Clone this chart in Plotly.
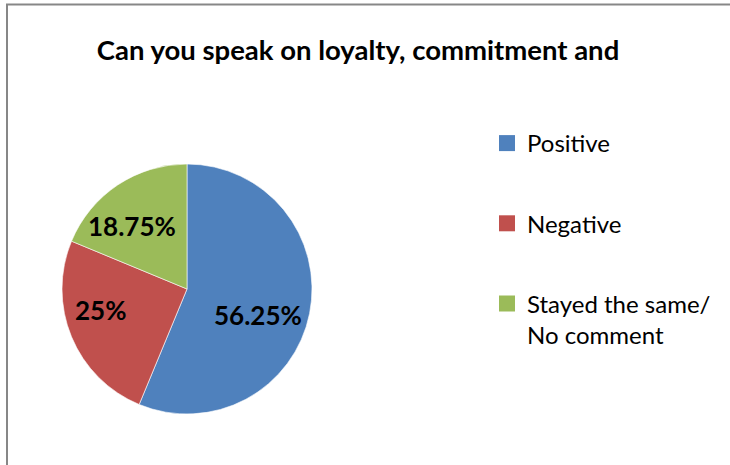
import plotly.graph_objects as go

# Survey responses (share of respondents, %)
categories = ["Positive", "Negative", "Stayed the same/<br>No comment"]
shares = [56.25, 25, 18.75]
colors = ["#4F81BD", "#C0504D", "#9BBB59"]

title_text = "Can you speak on loyalty, commitment and"

W, H = 730, 465
FONT = "Lato"


def px(x, y):
    """Pixel position (from top-left) -> paper coordinates."""
    return x / W, 1 - y / H


fig = go.Figure()

# Pie: first slice starts at 12 o'clock and runs clockwise
fig.add_trace(go.Pie(
    labels=categories,
    values=shares,
    sort=False,
    direction="clockwise",
    rotation=0,
    marker=dict(colors=colors, line=dict(color="white", width=0.6)),
    textinfo="none",
    showlegend=False,
    hoverinfo="label+value",
    domain=dict(x=[62 / W, 312 / W], y=[(H - 414) / H, (H - 164) / H]),
))

# Data labels inside the slices (best-fit placement)
label_xy = [(258, 315), (101, 310), (132, 226)]
annotations = []
for val, (lx, ly) in zip(shares, label_xy):
    ax_, ay_ = px(lx, ly)
    annotations.append(dict(
        x=ax_, y=ay_, xref="paper", yref="paper",
        xanchor="center", yanchor="middle", showarrow=False,
        text=f"{val:g}%",
        font=dict(family=FONT, size=26, color="black", weight="bold"),
    ))

# Legend entries (square swatches, one group each so they can be spaced apart)
for name, col in zip(categories, colors):
    fig.add_trace(go.Scatter(
        x=[None], y=[None], mode="markers", name=name,
        legendgroup=name,
        marker=dict(symbol="square", size=16, color=col),
    ))

fig.update_layout(
    width=W, height=H,
    margin=dict(l=0, r=0, t=0, b=0),
    paper_bgcolor="white",
    plot_bgcolor="white",
    xaxis=dict(visible=False),
    yaxis=dict(visible=False),
    title=dict(
        text=title_text,
        x=358 / W, xanchor="center",
        y=1 - 50 / H, yanchor="middle",
        font=dict(family=FONT, size=27.5, color="black", weight="bold"),
    ),
    legend=dict(
        x=487 / W, xanchor="left",
        y=1 - 121 / H, yanchor="top",
        font=dict(family=FONT, size=24, color="black"),
        tracegroupgap=46,
        valign="top",
        bgcolor="rgba(0,0,0,0)",
    ),
    annotations=annotations,
    shapes=[dict(
        type="rect", xref="paper", yref="paper",
        x0=7 / W, x1=1.05, y0=-0.05, y1=1 - 4.5 / H,
        line=dict(color="#878787", width=2),
        fillcolor="rgba(0,0,0,0)",
    )],
)

fig.write_html("out.html")
